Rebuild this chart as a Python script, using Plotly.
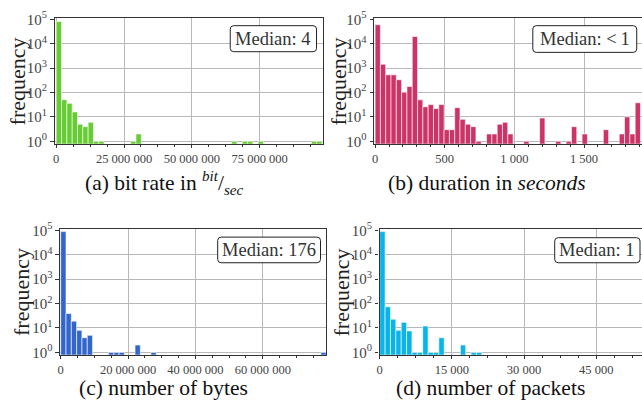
import plotly.graph_objects as go

# ---------------- data ----------------
N_BINS = 50

bitrate_max = 98.0e6
bitrate_counts = [81000, 51, 36, 16, 5, 4, 6, 1, 1, 0,
                  0, 0, 0, 0, 1, 2, 0, 0, 0, 0,
                  0, 0, 0, 0, 0, 0, 0, 0, 0, 0,
                  0, 0, 0, 1, 0, 1, 1, 0, 1, 0,
                  0, 0, 0, 0, 0, 0, 0, 0, 1, 1]

duration_max = 1905.0
duration_counts = [60000, 1440, 530, 530, 335, 103, 178, 20000, 50, 26,
                   32, 22, 32, 3, 3, 24, 8, 5, 4, 1,
                   0, 2, 2, 5, 6, 2, 0, 0, 1, 0,
                   0, 9, 0, 0, 1, 0, 1, 4, 0, 2,
                   0, 0, 0, 3, 0, 0, 2, 10, 2, 38]

bytes_max = 78.8e6
bytes_counts = [89000, 39, 19, 8, 4, 5, 0, 0, 0, 1,
                1, 1, 0, 0, 2, 0, 0, 1, 0, 0,
                0, 0, 0, 0, 0, 0, 0, 0, 0, 0,
                0, 0, 0, 0, 0, 0, 0, 0, 0, 0,
                0, 0, 0, 0, 0, 0, 0, 0, 0, 1]

packets_max = 55850.0
packets_counts = [89000, 74, 23, 8, 17, 7.6, 1, 1, 12, 1,
                  1, 4, 0, 0, 0, 2, 0, 1, 1, 0,
                  0, 0, 0, 0, 0, 0, 0, 0, 0, 0,
                  0, 0, 0, 0, 0, 0, 0, 0, 0, 0,
                  0, 0, 0, 0, 0, 0, 0, 0, 0, 0]

medians = ["Median: 4", "Median: &lt;\u20091", "Median: 176", "Median: 1"]
captions = ["(a) bit rate in <sup><i>bit</i></sup>/<sub><i>sec</i></sub>",
            "(b) duration in <i>seconds</i>",
            "(c) number of bytes",
            "(d) number of packets"]
y_tick_vals = [1, 10, 100, 1000, 10000, 100000]
y_tick_text = ["10<sup>0</sup>", "10<sup>1</sup>", "10<sup>2</sup>",
               "10<sup>3</sup>", "10<sup>4</sup>", "10<sup>5</sup>"]

# ---------------- layout helpers ----------------
W, H = 642, 414
FONT = "Liberation Serif"


def px(p):
    return p / W


def py(p):
    return 1 - p / H


panels = [
    dict(counts=bitrate_counts, vmax=bitrate_max, color="#66CC33",
         xdom=(52, 322), ydom=(9.7, 139.7), xr=(-0.55e6, 98.55e6),
         dtick=25e6, minor=6.25e6, mirror_y=True,
         box=(228.3, 17.3, 315, 44.3), ylab=(15.5, 74.7), cap=(162, 181)),
    dict(counts=duration_counts, vmax=duration_max, color="#CC3366",
         xdom=(373, 642), ydom=(9.7, 139.7), xr=(-6, 1916),
         dtick=500, minor=100, mirror_y=False,
         box=(532.3, 17.3, 636.7, 45), ylab=(338, 74.7), cap=(486, 181)),
    dict(counts=bytes_counts, vmax=bytes_max, color="#3366CC",
         xdom=(57.3, 325), ydom=(228.7, 358.7), xr=(-0.2e6, 78.9e6),
         dtick=20e6, minor=5e6, mirror_y=True,
         box=(215.7, 236.7, 319, 263.3), ylab=(18, 293.7), cap=(161, 393)),
    dict(counts=packets_counts, vmax=packets_max, color="#0AB4E8",
         xdom=(378.3, 642), ydom=(228.7, 358.7), xr=(-41, 54520),
         dtick=15000, minor=3750, mirror_y=False,
         box=(554.3, 237.3, 640, 263.3), ylab=(340, 293.7), cap=(490, 393)),
]


def rrect(x0, y0, x1, y1, r=3.5):
    pts = [
        ("M", [(x0 + r, y0)]), ("L", [(x1 - r, y0)]), ("Q", [(x1, y0), (x1, y0 + r)]),
        ("L", [(x1, y1 - r)]), ("Q", [(x1, y1), (x1 - r, y1)]),
        ("L", [(x0 + r, y1)]), ("Q", [(x0, y1), (x0, y1 - r)]),
        ("L", [(x0, y0 + r)]), ("Q", [(x0, y0), (x0 + r, y0)]),
    ]
    s = ""
    for cmd, ps in pts:
        s += cmd + " " + " ".join(f"{px(a):.5f},{py(b):.5f}" for a, b in ps) + " "
    return s + "Z"


fig = go.Figure()
layout = dict(width=W, height=H, margin=dict(l=0, r=0, t=0, b=0),
              paper_bgcolor="white", plot_bgcolor="white",
              showlegend=False, separators=". ",
              font=dict(family=FONT, color="#222222"))
shapes, annotations = [], []

for i, p in enumerate(panels):
    n = i + 1
    xa = "x" if n == 1 else f"x{n}"
    ya = "y" if n == 1 else f"y{n}"
    binw = p["vmax"] / N_BINS
    xs = [(k + 0.5) * binw for k, c in enumerate(p["counts"]) if c > 0]
    ys = [c for c in p["counts"] if c > 0]
    fig.add_trace(go.Bar(x=xs, y=ys, width=binw, xaxis=xa, yaxis=ya,
                         marker=dict(color=p["color"],
                                     line=dict(color="white", width=0.6))))
    layout["xaxis" if n == 1 else f"xaxis{n}"] = dict(
        domain=[px(p["xdom"][0]), px(p["xdom"][1])], anchor=ya,
        range=list(p["xr"]), tick0=0, dtick=p["dtick"], tickformat=",d",
        showgrid=True, gridcolor="#b8b8b8", gridwidth=1, zeroline=False,
        showline=True, linecolor="#333333", linewidth=1.3, mirror=True,
        ticks="outside", ticklen=3.5, tickcolor="#333333",
        minor=dict(tick0=0, dtick=p["minor"], ticks="outside", ticklen=2,
                   tickcolor="#333333", showgrid=False),
        tickfont=dict(family=FONT, size=12.5, color="#444444"))
    layout["yaxis" if n == 1 else f"yaxis{n}"] = dict(
        domain=[py(p["ydom"][1]), py(p["ydom"][0])], anchor=xa,
        type="log", range=[-0.095, 5.04],
        tickmode="array", tickvals=y_tick_vals, ticktext=y_tick_text,
        showgrid=True, gridcolor="#b8b8b8", gridwidth=1, zeroline=False,
        showline=True, linecolor="#333333", linewidth=1.3, mirror=p["mirror_y"],
        ticks="outside", ticklen=3.5, tickcolor="#333333",
        tickfont=dict(family=FONT, size=15, color="#444444"))
    bx0, by0, bx1, by1 = p["box"]
    shapes.append(dict(type="path", xref="paper", yref="paper",
                       path=rrect(bx0, by0, bx1, by1),
                       line=dict(color="#222222", width=1), fillcolor="white"))
    annotations.append(dict(xref="paper", yref="paper",
                            x=px((bx0 + bx1) / 2), y=py((by0 + by1) / 2),
                            text=medians[i], showarrow=False,
                            xanchor="center", yanchor="middle",
                            font=dict(family=FONT, size=18.5, color="#333333")))
    annotations.append(dict(xref="paper", yref="paper",
                            x=px(p["ylab"][0]), y=py(p["ylab"][1]),
                            text="frequency", textangle=-90, showarrow=False,
                            xanchor="center", yanchor="middle",
                            font=dict(family=FONT, size=22, color="#222222")))
    annotations.append(dict(xref="paper", yref="paper",
                            x=px(p["cap"][0]), y=py(p["cap"][1]),
                            text=captions[i], showarrow=False,
                            xanchor="center", yanchor="middle",
                            font=dict(family=FONT, size=21.5, color="#111111")))

layout["shapes"] = shapes
layout["annotations"] = annotations
fig.update_layout(**layout)
fig.write_html("out.html",
               config={"displayModeBar": False},
               post_script="document.body.style.margin='0';"
                           "document.body.style.overflow='hidden';")
